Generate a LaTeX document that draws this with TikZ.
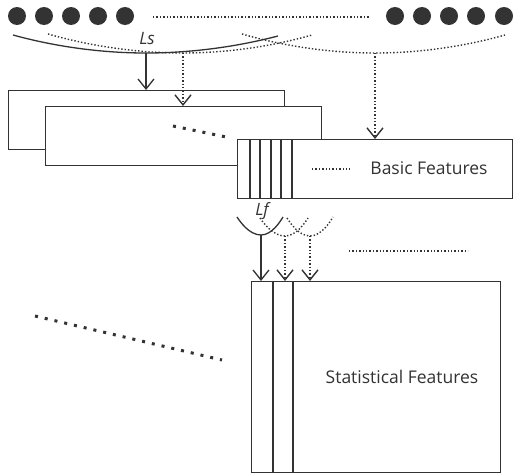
\documentclass[tikz,border=0pt]{standalone}
\usepackage{fontspec}
\setmainfont{Open Sans}
\usepackage{tikz}
\usetikzlibrary{arrows.meta}
\usetikzlibrary{positioning, calc}

\definecolor{ink}{HTML}{333333}
\tikzset{
  frame/.style={draw=ink, fill=white, line width=1.3pt, anchor=north west, inner sep=0pt},
  dotline/.style={draw=ink, line width=1.4pt, dash pattern=on 1.4pt off 2pt},
  bigdots/.style={draw=ink, line width=3pt, dash pattern=on 3pt off 7pt},
  label/.style={text=ink, font=\fontsize{17.5}{20}\selectfont},
  curvelabel/.style={text=ink, font=\itshape\fontsize{17}{19}\selectfont}
}

\begin{document}
\begin{tikzpicture}[x=1pt,y=-1pt,line width=1.3pt,draw=ink,
  >={Straight Barb[length=10pt,width=16pt]}]
\useasboundingbox (0,0) rectangle (513,474);

% input sequence
\foreach \x in {17,44,71,98,125} \fill[ink] (\x,16) circle (9);
\foreach \x in {395,422,449,476,504} \fill[ink] (\x,16) circle (9);
\draw[dotline] (153,17) -- (369,17);

% sliding windows over the sequence
\coordinate (lsA) at (146,53);
\coordinate (lsB) at (183,53);
\coordinate (lsC) at (375,53);
\draw[ink] (13,35) parabola bend (lsA) (278,36);
\draw[dotline] (48,34) parabola bend (lsB) (312,35);
\draw[dotline] (242,34) parabola bend (lsC) (505,35);
\node[curvelabel] (ls) at (147,39) {Ls};

% windows
\node[frame, minimum width=276pt, minimum height=59pt] (win1) at (8,90) {};
\node[frame, minimum width=276pt, minimum height=59pt] (win2) at (45,106) {};
\node[frame, minimum width=275pt, minimum height=59pt] (basic) at (237,139) {};
\foreach \x in {250,260,271,281,292} \draw[ink] (\x,139) -- (\x,198);
\draw[bigdots] (173,126) -- (231,138);
\draw[dotline] (312,169) -- (350,169);
\node[label] (basictext) at (429,168) {Basic Features};

\path[->,ink] (lsA) edge (lsA |- win1.north)
  (lsB) edge[dotline] (lsB |- win2.north)
  (lsC) edge[dotline] (lsC |- basic.north);

% windows over the basic features
\coordinate (lfA) at (261,235);
\coordinate (lfB) at (285,236);
\coordinate (lfC) at (310,236);
\draw[ink] (237,217) parabola bend (lfA) (283,217);
\draw[dotline] (260,218) parabola bend (lfB) (308,218);
\draw[dotline] (287,218) parabola bend (lfC) (333,217);
\node[curvelabel] (lf) at (262,211) {Lf};
\draw[dotline] (349,251) -- (468,251);

% statistical features
\node[frame, minimum width=249pt, minimum height=191pt] (stat) at (251,281) {};
\draw[ink] (273,281) -- (273,472);
\draw[ink] (293,281) -- (293,472);
\node[label] (stattext) at (402,377) {Statistical Features};
\draw[bigdots] (35,316) -- (222,360);

\path[->,ink] (lfA) edge (lfA |- stat.north)
  (lfB) edge[dotline] (lfB |- stat.north)
  (lfC) edge[dotline] (lfC |- stat.north);
\end{tikzpicture}
\end{document}
